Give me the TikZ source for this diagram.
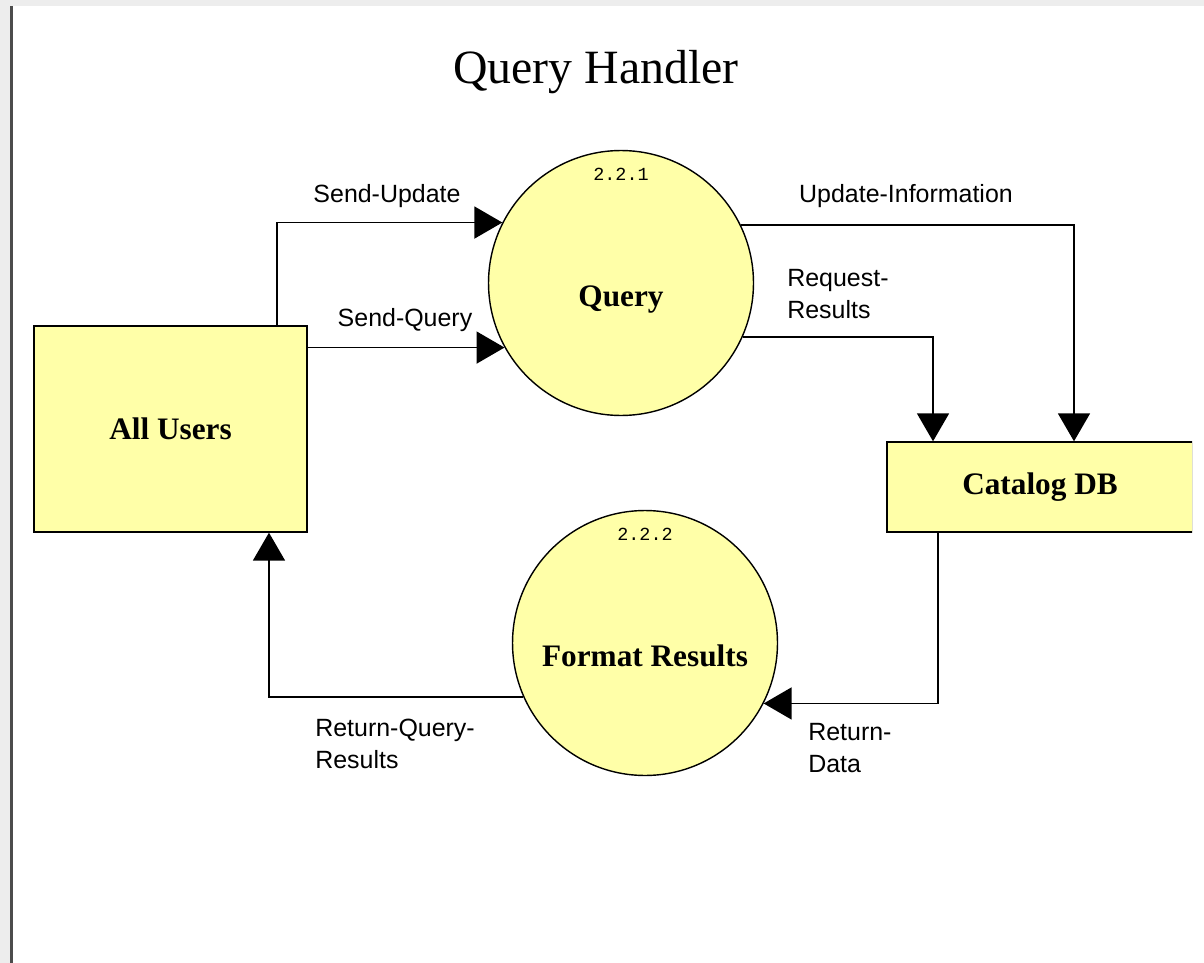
\documentclass[tikz,border=0pt]{standalone}
\usepackage{fontspec}
\setmainfont{Liberation Serif}
\setsansfont{Liberation Sans}
\setmonofont{Liberation Mono}
\usetikzlibrary{positioning, arrows.meta}
\usetikzlibrary{calc}

\definecolor{procfill}{HTML}{FFFFA8}
\definecolor{pageedge}{HTML}{EDEDED}

\begin{document}
\begin{tikzpicture}[x=0.02cm, y=-0.02cm,
    >={Triangle[length=0.56cm, width=0.64cm]},
    every node/.style={inner sep=0pt},
    flow/.style={->, line width=1pt},
    flowlabel/.style={font=\sffamily\fontsize{14.2}{18.1}\selectfont, align=left},
    process/.style={circle, draw, line width=0.8pt, fill=procfill, minimum size=5.3cm},
    proctext/.style={font=\bfseries\fontsize{17.8}{21}\selectfont},
    procid/.style={font=\ttfamily\fontsize{10.5}{12}\selectfont},
    entity/.style={rectangle, draw, line width=0.8pt, fill=procfill, font=\bfseries\fontsize{17.8}{21}\selectfont},
]
\useasboundingbox (0,0) rectangle (1204,963);
% page background
\fill[pageedge] (0,0) rectangle (1204,963);
\fill[white] (13,6) rectangle (1204,963);
\draw[gray!60!black, line width=1.6pt] (11.5,6) -- (11.5,963);

% Title
\node (title) at (596,72) {\fontsize{27.2}{32}\selectfont Query Handler};

% Entities
\node (users) [entity, minimum width=5.46cm, minimum height=4.12cm] at (170.5,429) {All Users};
\begin{scope}
\clip (0,0) rectangle (1192,963);
\node (catalog) [entity, minimum width=6.12cm, minimum height=1.8cm] at (1040,487) {Catalog DB};
\end{scope}

% Processes
\node (query) [process] at (621,283) {};
\node (queryid) [procid, below=0.36cm of query.north] {2.2.1};
\node (querytxt) [proctext] at ($(query)+(0,17)$) {Query};

\node (format) [process] at (645,643) {};
\node (formatid) [procid, below=0.36cm of format.north] {2.2.2};
\node (formattxt) [proctext] at ($(format)+(0,13)$) {Format Results};

% Data flows
\draw[flow] ([xshift=2.13cm]users.north) |- (query.153.6);
\draw[flow] (users.east |- query.209.4) -- (query.209.4);
\draw[flow] (query.26.4) -| ([xshift=0.68cm]catalog.north);
\draw[flow] (query.336.4) -| ([xshift=-2.14cm]catalog.north);
\draw[flow] ([xshift=-2.04cm]catalog.south) |- (format.333.6);
\draw[flow] (format.204.5) -| ([xshift=1.97cm]users.south);

% Flow labels
\node (sendupdate) [flowlabel] at (387,196) {Send-Update};
\node (sendquery) [flowlabel] at (405,320) {Send-Query};
\node (updateinfo) [flowlabel] at (906,196) {Update-Information};
\node (requestres) [flowlabel, anchor=west] at (787,294) {Request-\\Results};
\node (returndata) [flowlabel, anchor=west] at (808,748) {Return-\\Data};
\node (returnquery) [flowlabel, anchor=west] at (315,744) {Return-Query-\\Results};

\end{tikzpicture}
\end{document}
